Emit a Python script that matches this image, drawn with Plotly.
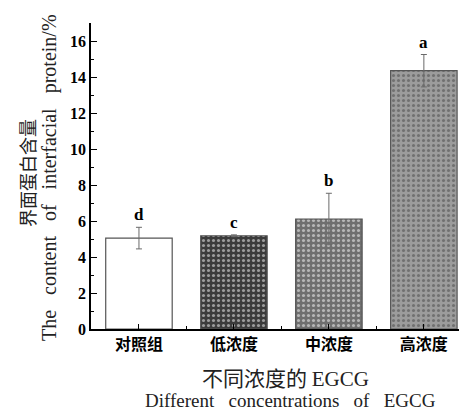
import plotly.graph_objects as go

categories = ["对照组", "低浓度", "中浓度", "高浓度"]
values = [5.05, 5.18, 6.11, 14.35]
errors = [0.6, 0.05, 1.43, 0.9]
letters = ["d", "c", "b", "a"]
bar_colors = ["#ffffff", "#3b3b3b", "#6f6f6f", "#9c9c9c"]
pattern_colors = ["#ffffff", "#434343", "#777777", "#a5a5a5"]
y_ticks = [0, 2, 4, 6, 8, 10, 12, 14, 16]

xs = list(range(len(categories)))

W, H = 465, 411
ML, MR, MT, MB = 91, 6, 23, 82
PW, PH = W - ML - MR, H - MT - MB


def px(xp):
    return (xp - ML) / PW


def py(yp):
    return (H - MB - yp) / PH


fig = go.Figure()
fig.add_trace(go.Bar(
    x=xs, y=values, width=0.7,
    marker=dict(color=bar_colors, line=dict(color="#555555", width=1.2),
                pattern=dict(shape=["", ".", ".", "."], fgcolor=pattern_colors,
                             size=5, solidity=0.3)),
    error_y=dict(type="data", array=errors, visible=True, color="#6a6a6a",
                 thickness=1, width=3),
    showlegend=False,
))

serif = "Liberation Serif"
cjk = "Noto Sans CJK SC"

for x, v, e, t in zip(xs, values, errors, letters):
    fig.add_annotation(x=x, y=v + e, text=f"<b>{t}</b>", showarrow=False,
                       yanchor="bottom", yshift=1,
                       font=dict(family=serif, size=17, color="black"))

fig.update_layout(
    width=W, height=H,
    margin=dict(l=ML, r=MR, t=MT, b=MB, autoexpand=False),
    paper_bgcolor="white", plot_bgcolor="white",
    xaxis=dict(
        range=[-0.505, 3.37], tickvals=xs,
        ticktext=[f"<b>{c}</b>" for c in categories],
        ticks="inside", ticklen=5, tickwidth=1, tickcolor="black",
        showline=True, linecolor="black", linewidth=1.5,
        showgrid=False, zeroline=False,
        tickfont=dict(family=cjk, size=16, color="black"),
        minor=dict(tickvals=[0.5, 1.5, 2.5], ticks="inside", ticklen=3,
                   tickcolor="black"),
    ),
    yaxis=dict(
        range=[0, 17], tickvals=y_ticks,
        ticktext=[f"<b>{t}</b>" for t in y_ticks],
        ticks="inside", ticklen=6, tickwidth=1, tickcolor="black",
        showline=True, linecolor="black", linewidth=1.5,
        showgrid=False, zeroline=False,
        tickfont=dict(family=serif, size=16, color="black"),
        minor=dict(dtick=1, tick0=0, ticks="inside", ticklen=3, tickcolor="black"),
    ),
)

gap_y = "\u00a0" * 3
gap_x = "\u00a0" * 3
fig.add_annotation(xref="paper", yref="paper", x=px(27), y=py(173),
                   text="界面蛋白含量", showarrow=False, textangle=-90,
                   xanchor="center", yanchor="middle",
                   font=dict(family=cjk, size=18, color="#222"))
fig.add_annotation(xref="paper", yref="paper", x=px(49), y=py(178),
                   text=gap_y.join(["The", "content", "of", "interfacial", "protein/%"]),
                   showarrow=False, textangle=-90,
                   xanchor="center", yanchor="middle",
                   font=dict(family=serif, size=20, color="#222"))
fig.add_annotation(xref="paper", yref="paper", x=px(285), y=py(377),
                   text=f"不同浓度的\u00a0<span style='font-family:{serif}'>EGCG</span>",
                   showarrow=False,
                   xanchor="center", yanchor="middle",
                   font=dict(family=cjk, size=21, color="#222"))
fig.add_annotation(xref="paper", yref="paper", x=px(290), y=py(400),
                   text=gap_x.join(["Different", "concentrations", "of", "EGCG"]),
                   showarrow=False,
                   xanchor="center", yanchor="middle",
                   font=dict(family=serif, size=19, color="#222"))

fig.write_html("out.html", config={"displayModeBar": False},
               post_script="document.body.style.margin='0';")
